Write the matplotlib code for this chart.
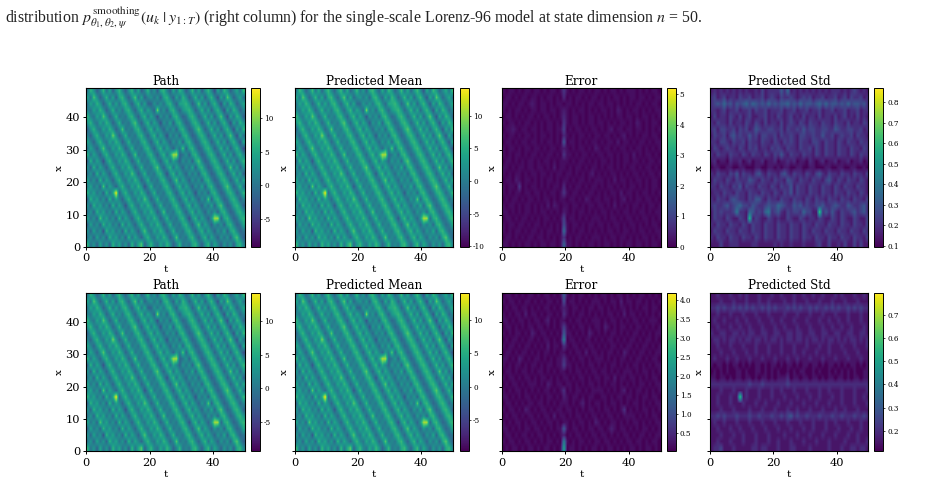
import numpy as np
import matplotlib
matplotlib.use("Agg")
import matplotlib.pyplot as plt

plt.rcParams["font.family"] = "DejaVu Serif"
plt.rcParams["mathtext.fontset"] = "stix"

# State field on a coarse grid: rows run from x = 48 down to x = 0, columns from t = 0 to 49.
# Each character is a hex level, see the level scales below.
path_rows = [
    "3752473625 7425736247 3526742637 5247362574 1637524637",
    "6385247362 6742583624 5352674263 7524736257 4163852463",
    "3647524736 3674257362 2535367426 6752483625 7416375246",
    "4364752473 5367425736 4293526742 5675247362 5741637524",
    "7436485247 3436742573 6415352674 2367524736 2584163752",
    "5743647524 7343684257 3641536267 4236752473 6257416375",
    "2574364752 4834367425 7364253526 7423685247 3625741637",
    "4257436495 2473436742 5736415352 6742367524 7362584163",
    "6425743647 5247343674 2573642536 2674236752 4736257416",
    "3642584364 7524734367 4257364253 8267423675 2473625741",
    "7364257436 4752483436 7425736aa2 3526742367 5247362574",
    "2736415743 6475247343 6742573642 5352684236 7524736257",
    "5273642574 3647524734 3684257364 2536267423 6752483625",
    "3527364257 4364852473 4367415736 4253526742 3675247362",
    "6352736425 7436475247 3436742583 6425352674 2367524736",
    "4635283642 5743647514 7343674257 3642536267 4236852473",
    "746352736c 2574364752 4734367425 7364153526 7423675247",
    "2746352736 4257436485 2473436742 5736425382 6742367524",
    "5274635273 6415743647 5247343674 2573642536 2684236752",
    "3527463527 3642574364 7524834367 4257364253 5267423675",
    "6352846352 7364257436 4752473436 7415736425 aa26742367",
    "2635274635 2736425743 6475247343 6742583642 5352674236",
    "5263517463 5273642584 3647524734 3674257364 2536267423",
    "3526352746 3527364257 4364752483 4367425736 4253526842",
    "7352635274 6352736825 7436475247 3436742573 6425352674",
]

error_rows_upper = [
    "1011010110 1101011014 1010110101 1010110101 1101010110",
    "0110101101 1010110103 0101101011 0101011010 1101101011",
    "1101011012 1011010110 1101010110 1101101010 1011010110",
    "1010110101 1011011012 1010110101 0110102101 0110101011",
    "0110101011 0101101013 1011010110 1010101101 1010110101",
    "1011010110 1010110104 1011010110 1101010110 1021010110",
    "0112101101 1010110115 0101101011 0101201101 1011010101",
    "1011010110 1011010103 1010110101 1011010120 1010110110",
    "0110101101 1010110107 0110101011 0101102011 0101101011",
    "1011010110 1101011012 1010110102 1011010110 1011010101",
    "1010110101 1010110104 1101011010 1101101011 0201011010",
    "0110101011 0101101011 1010110101 0110101011 0110101101",
    "1101011011 0110102011 0101101011 0101101010 1101011010",
    "1010110101 1011010110 1101010120 1010110101 0110101101",
    "0110210110 1010110101 1010110101 1101020110 1011010110",
    "1011040101 1010101103 0101101011 0101101010 1101010110",
    "1010110110 1101011014 1011010110 1010110201 1010110101",
    "0101101011 0101101011 0110102101 1011010120 1011011010",
    "1011010110 1010202101 1011010110 1101020101 0110101101",
    "1101010110 1011010102 1010110101 0110101011 0101101011",
    "0110101101 0101101015 0110101011 1010110101 1010110101",
    "1011011010 1101010106 1011010110 1101011010 1101010110",
    "1010110101 1010110109 1010110101 0101101011 0101101011",
    "0110101011 0110101014 0101101011 1010110110 1010110101",
    "1101010110 1011011018 1101010110 1011010101 1011010110",
]

error_rows_lower = [
    "0110101011 0101101016 1010110101 0110101101 0101101010",
    "1011010110 1010110105 0110101011 1010110201 1011010101",
    "0101101101 0101101012 1011010110 1101010110 1010110110",
    "1010110201 1010110103 1010110101 0101101020 1101010101",
    "1101011010 1101201011 0101101011 1010110101 0110101110",
    "0110101011 0110101014 1010110101 1021010110 1011010101",
    "1010110102 1011010106 1101010210 1010110101 0110101011",
    "0101101011 0101101019 0110101101 0101101010 1101011010",
    "1011010110 1010201103 1011010110 1010110101 1010110101",
    "0110101101 0101101011 0101102011 0101101021 0101101011",
    "1101021010 1101010113 1010110101 1101010110 1011010110",
    "1010110101 1010110114 1101010110 1010110101 0110101011",
    "0110101101 0110101011 0101101011 0110101011 1010110101",
    "1011010110 1011010101 1010110101 1011020110 1101010110",
    "0101101011 1010210110 1101010110 1010110101 0101101011",
    "1010110101 0101101013 0101101011 1101010120 1011010101",
    "1101010110 1010110102 1011010110 0110101101 1010110110",
    "0110101011 0110101011 1010120101 1010110101 0110101011",
    "1011010210 1011010110 1101010110 1011010130 1010110101",
    "0101101011 0101102011 0101101011 0101101011 1101010110",
    "1010110101 1010110101 1010110102 1010110101 0110101011",
    "1101010110 1101010116 1011010110 1101210110 1010110101",
    "0110101101 0110101012 0101101011 0110101011 0101101011",
    "1011010110 1010110109 1010110101 1011010101 1011010110",
    "0101101011 010110101c 0110101011 0101101010 1101011010",
]

std_rows_upper = [
    "1212121212 1211213122 2242512121 2121212122 2121232121",
    "2312312213 2231223123 2132232123 2312231223 1231322312",
    "2343534243 4535434353 4344534353 4434535344 3435344342",
    "2212312231 2231322312 2231223122 3122312231 2231223122",
    "1312213213 1231122312 1321231213 1221312213 1231213121",
    "2132213122 1321321312 2131232132 1322132213 2213122132",
    "2313322313 2312432233 2231322324 2332233224 3223322312",
    "1322313423 2242313322 3132232133 2232242231 2322313221",
    "2213321322 3132213221 3213232132 2133213221 3213221322",
    "1321232213 2132312213 2321322132 2313213221 3221322132",
    "2132213221 3213221321 3242132213 2213213221 3221321322",
    "1201102112 0120112011 2011212011 0210120112 0112011201",
    "0110011001 1000110011 0101100110 0110001100 1100110010",
    "2132213241 3221342132 2134213221 3213421322 1322132213",
    "1322132132 2243213221 3221432132 2132213421 3213221321",
    "2213221324 1322132213 2132241322 1322132213 2132213221",
    "1221322132 2132213221 3213241322 1322132213 2213221321",
    "2132213432 2132442132 2132213221 3213221322 1322132213",
    "2322342345 3324322343 3543224342 3223342234 3224322342",
    "1323222362 2154232562 3421323325 3311b24242 1322342342",
    "1322132113 21a1321132 1211321132 1221321132 1321132113",
    "2132213221 3213221322 1322132213 2213221322 1322132213",
    "1322132213 2213221322 1322132213 2132213221 3221322132",
    "2132213221 3221321322 1322132213 2213221322 1322132213",
    "1113112221 1112211111 2121121112 1112311311 2131131311",
]

std_rows_lower = [
    "1121112112 1211121112 1121112112 1121121112 1211121121",
    "1112111211 1211121121 1112112111 2111211121 1121112111",
    "2232322323 2323223232 3222323232 2323223232 3223232322",
    "1121112111 2111211121 1112111211 1211121112 1112111211",
    "1211211121 1211121112 1121112111 2111211211 2112111211",
    "1121112112 1121112111 2112111211 1211121121 1211211121",
    "2112211221 2122112211 2211221221 1221122112 2112211221",
    "1221212212 1221221212 2121221221 2122121221 2121221212",
    "1121112111 2111211121 1121112111 2111211211 1211121112",
    "1112111211 1211211121 1121112112 1112111211 1121112111",
    "1211121121 1121112111 2111211211 1211121112 1112111211",
    "1011010110 1010110101 1010110101 1011010110 1010110101",
    "0101010011 0100110101 0100101011 0010100101 0101010011",
    "1101101011 0110101101 0111201101 1011010110 1101011011",
    "2222222222 2232223222 2222322222 2222222222 2222222222",
    "1112111211 1211121112 1121112111 2111211211 1211121112",
    "112111211a 1211121112 1112111211 1211211121 1211121121",
    "1121112111 2111211211 1211121112 1112111211 1211121112",
    "1112111211 1121112111 2111211211 1211121112 1121112111",
    "2232322232 2232232223 2232342322 3222322232 2322232232",
    "1211211121 1121112111 2111211121 1121112112 1112111211",
    "1121112112 1112111211 1211121112 1121112111 2111211211",
    "1112111211 2111211121 1112111211 1211121112 1112112111",
    "1121112111 2111211121 1211121112 1112111211 1121112112",
    "1223111211 1112212211 1211122111 1211111211 1211221221",
]

# Physical value of level 0 and the step per hex level, per quantity
path_scale = (-5.0, 1.6)
error_scale = (0.0, 0.2)
std_scale = (0.1, 0.05)

# Colour ranges of the two rows of panels
path_range = [(-9.2, 14.5), (-9.4, 14.2)]
mean_range = [(-10.1, 14.2), (-9.6, 14.0)]
error_range = [(0.0, 5.2), (0.03, 4.18)]
std_range = [(0.095, 0.867), (0.112, 0.795)]

path_ticks = [-5, 0, 5, 10]
mean_ticks = [[-10, -5, 0, 5, 10], [-5, 0, 5, 10]]
error_ticks = [[0, 1, 2, 3, 4, 5], [0.5, 1.0, 1.5, 2.0, 2.5, 3.0, 3.5, 4.0]]
std_ticks = [[0.1, 0.2, 0.3, 0.4, 0.5, 0.6, 0.7, 0.8], [0.2, 0.3, 0.4, 0.5, 0.6, 0.7]]

titles = ["Path", "Predicted Mean", "Error", "Predicted Std"]
caption = (r"distribution $p^{\,\mathrm{smoothing}}_{\theta_1,\theta_2,\psi}(u_k\;|\;y_{1:T})$"
           r" (right column) for the single-scale Lorenz-96 model at state dimension $n$ = 50.")


def decode(rows, scale):
    """Turn hex-level strings into a value array."""
    base, step = scale
    levels = [[int(c, 16) for c in r.replace(" ", "")] for r in rows]
    return base + step * np.array(levels, dtype=float)


W, H = 951, 491
fig = plt.figure(figsize=(W / 100, H / 100), dpi=100, facecolor="white")


def box(x0, x1, y0, y1):
    return [x0 / W, 1 - y1 / H, (x1 - x0) / W, (y1 - y0) / H]


panel_x = [(86.3, 245.0), (294.5, 453.0), (502.0, 660.7), (709.5, 868.3)]
cbar_x = [(251.0, 260.0), (459.5, 469.0), (667.0, 675.7), (874.3, 883.0)]
row_y = [(88.3, 247.0), (292.7, 451.3)]

for r, (y0, y1) in enumerate(row_y):
    fields = [
        (decode(path_rows, path_scale), path_range[r], path_ticks),
        (decode(path_rows, path_scale), mean_range[r], mean_ticks[r]),
        (decode(error_rows_upper if r == 0 else error_rows_lower, error_scale),
         error_range[r], error_ticks[r]),
        (decode(std_rows_upper if r == 0 else std_rows_lower, std_scale),
         std_range[r], std_ticks[r]),
    ]
    for c, (values, (vmin, vmax), ticks) in enumerate(fields):
        ax = fig.add_axes(box(*panel_x[c], y0, y1))
        im = ax.imshow(values, cmap="viridis", vmin=vmin, vmax=vmax, aspect="auto",
                       extent=[0, 50, 0, 49], interpolation="bilinear")
        ax.set_title(titles[c], fontsize=8.6, pad=2.5)
        ax.set_xlabel("t", fontsize=7.5, labelpad=1.5)
        ax.set_ylabel("x", fontsize=7.5, labelpad=1.5)
        ax.set_xticks([0, 20, 40])
        ax.set_yticks([0, 10, 20, 30, 40])
        ax.tick_params(labelsize=8.2, length=2.5, width=0.7, pad=2)
        if c > 0:
            ax.tick_params(labelleft=False)
        for s in ax.spines.values():
            s.set_linewidth(0.8)
        cax = fig.add_axes(box(*cbar_x[c], y0, y1))
        cb = fig.colorbar(im, cax=cax, ticks=ticks)
        cb.ax.tick_params(labelsize=5.2, length=1.5, width=0.5, pad=1.5)
        cb.outline.set_linewidth(0.7)
        cb.ax.set_yticklabels([f"{t:g}" if c < 2 or r == 0 and c == 2 else f"{t:.1f}" for t in ticks])

fig.text(5 / W, 1 - 23 / H, caption, fontsize=11.4, family="Liberation Serif",
         color="#222222", va="baseline", ha="left")

fig.savefig("out.png", dpi=100)
